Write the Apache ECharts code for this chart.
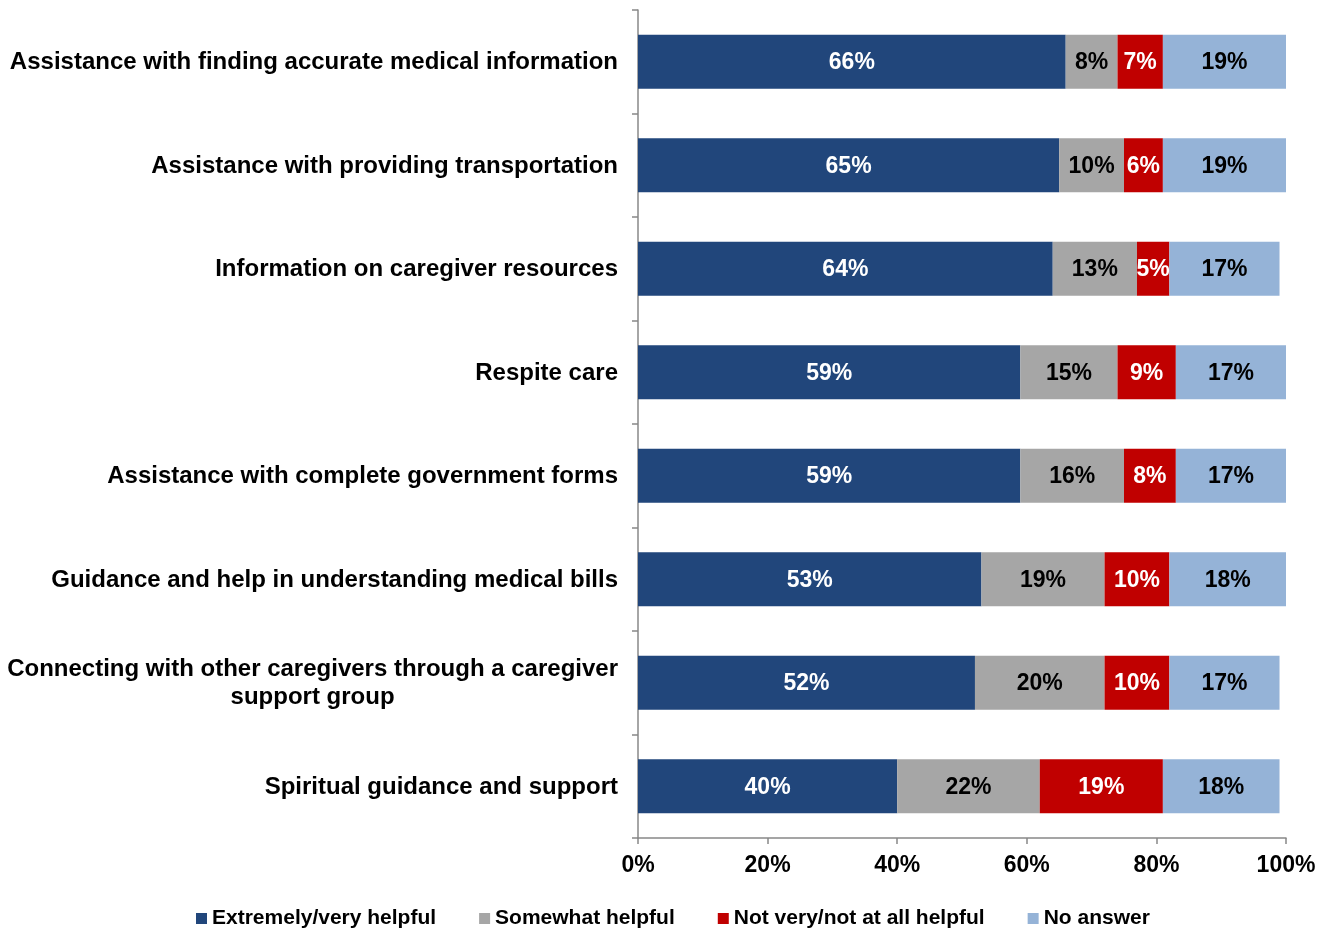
<!DOCTYPE html>
<html>
<head>
<meta charset="utf-8">
<script src="https://cdn.jsdelivr.net/npm/echarts@6/dist/echarts.min.js"></script>
<style>
    html, body { margin: 0; padding: 0; background: #fff; }
    #chart { width: 1328px; height: 928px; }
</style>
</head>
<body>
<div id="chart"></div>
<script>
    // categories, top to bottom
    var categories = [
        'Assistance with finding accurate medical information',
        'Assistance with providing transportation',
        'Information on caregiver resources',
        'Respite care',
        'Assistance with complete government forms',
        'Guidance and help in understanding medical bills',
        'Connecting with other caregivers through a caregiver\nsupport group',
        'Spiritual guidance and support'
    ];
    var seriesNames = ['Extremely/very helpful', 'Somewhat helpful', 'Not very/not at all helpful', 'No answer'];
    var extremelyHelpful = [66, 65, 64, 59, 59, 53, 52, 40];
    var somewhatHelpful = [8, 10, 13, 15, 16, 19, 20, 22];
    var notHelpful = [7, 6, 5, 9, 8, 10, 10, 19];
    var noAnswer = [19, 19, 17, 17, 17, 18, 17, 18];
    var xTicks = [0, 20, 40, 60, 80, 100];

    var font = '"Liberation Sans", Arial, sans-serif';
    var colors = ['#21467B', '#A6A6A6', '#C00000', '#95B3D7'];
    var labelColors = ['#fff', '#000', '#fff', '#000'];
    var values = [extremelyHelpful, somewhatHelpful, notHelpful, noAnswer];

    var myChart = echarts.init(document.getElementById('chart'));

    var series = values.map(function (data, i) {
        return {
            name: seriesNames[i],
            type: 'bar',
            stack: 'total',
            barWidth: 54,
            data: data,
            itemStyle: { color: colors[i] },
            label: {
                show: true,
                position: 'inside',
                offset: [0, 1],
                formatter: '{c}%',
                color: labelColors[i],
                fontFamily: font,
                fontWeight: 'bold',
                fontSize: 23
            }
        };
    });

    var option = {
        animation: false,
        color: colors,
        grid: {
            left: 638,
            right: 42,
            top: 10,
            bottom: 90,
            outerBoundsMode: 'none'
        },
        legend: {
            left: 191,
            top: 903,
            icon: 'rect',
            itemWidth: 11,
            itemHeight: 11,
            itemGap: 43,
            textStyle: {
                fontFamily: font,
                fontWeight: 'bold',
                fontSize: 21,
                color: '#000'
            },
            data: seriesNames
        },
        xAxis: {
            type: 'value',
            min: xTicks[0],
            max: xTicks[xTicks.length - 1],
            interval: 20,
            splitLine: { show: false },
            axisLine: { show: true, lineStyle: { color: '#888', width: 1.5 } },
            axisTick: { show: true, length: 6, lineStyle: { color: '#888', width: 1.5 } },
            axisLabel: {
                margin: 16,
                formatter: '{value}%',
                color: '#000',
                fontFamily: font,
                fontWeight: 'bold',
                fontSize: 23
            }
        },
        yAxis: {
            type: 'category',
            inverse: true,
            data: categories,
            axisLine: { show: true, lineStyle: { color: '#888', width: 1.5 } },
            axisTick: { show: true, length: 6, lineStyle: { color: '#888', width: 1.5 } },
            axisLabel: {
                margin: 20,
                color: '#000',
                fontFamily: font,
                fontWeight: 'bold',
                fontSize: 24,
                lineHeight: 28,
                align: 'right',
                formatter: function (value) {
                    return value.split('\n').map(function (s) { return '{c|' + s + '}'; }).join('\n');
                },
                rich: {
                    c: {
                        align: 'center',
                        color: '#000',
                        fontFamily: font,
                        fontWeight: 'bold',
                        fontSize: 24,
                        lineHeight: 28,
                        padding: [2, 0, 0, 0]
                    }
                }
            }
        },
        series: series
    };

    myChart.setOption(option);
</script>
</body>
</html>
